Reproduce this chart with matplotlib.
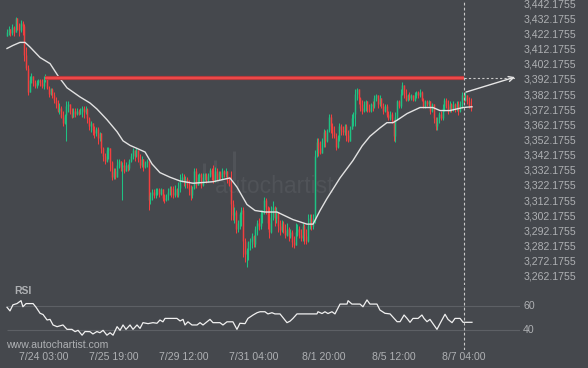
import matplotlib
matplotlib.use("Agg")
import matplotlib.pyplot as plt
import matplotlib.transforms as mtrans

# ---------------- data ----------------
first_open = 3421
closes = [3424,3426,3423,3427,3424,3433,3429,3425,3430,3428,3409,3400,3384,3392,3395,3390,3388,3391,3392,3390,
          3388,3393,3395,3387,3383,3386,3382,3379,3376,3372,3374,3368,3364,3369,3375,3376,3371,3368,3372,3370,
          3372,3370,3372,3374,3371,3373,3367,3362,3364,3359,3357,3360,3354,3357,3347,3342,3339,3346,3347,3338,
          3328,3332,3328,3336,3339,3335,3336,3332,3336,3334,3339,3342,3346,3342,3346,3340,3336,3340,3335,3338,
          3339,3313,3316,3318,3316,3320,3320,3317,3320,3314,3313,3316,3318,3321,3318,3316,3320,3316,3321,3326,
          3328,3325,3327,3323,3320,3316,3321,3332,3323,3328,3330,3323,3328,3330,3326,3329,3333,3330,3326,3332,
          3327,3331,3328,3332,3330,3332,3326,3323,3310,3303,3305,3294,3298,3304,3306,3286,3277,3280,3285,3286,
          3289,3284,3294,3298,3296,3304,3305,3313,3308,3298,3292,3302,3308,3301,3305,3296,3293,3298,3293,3290,
          3294,3289,3292,3285,3283,3292,3294,3290,3288,3296,3289,3286,3296,3301,3296,3300,3342,3351,3347,3344,
          3352,3358,3352,3359,3368,3362,3358,3355,3348,3354,3362,3359,3358,3362,3356,3352,3360,3367,3370,3383,
          3386,3380,3374,3372,3376,3378,3374,3372,3376,3375,3380,3382,3376,3380,3375,3372,3375,3369,3367,3370,
          3366,3355,3368,3378,3375,3383,3389,3382,3379,3382,3380,3382,3379,3382,3384,3382,3384,3379,3375,3378,
          3376,3378,3372,3376,3367,3362,3367,3370,3367,3374,3379,3375,3372,3376,3373,3376,3374,3376,3372,3376,
          3382,3379,3382,3378,3375,3374]
highs = [3426,3428,3426,3429,3428,3434,3433,3430,3432,3431,3429,3414,3402,3395,3397,3395,3392,3392,3393,3393,
         3393,3395,3396,3395,3388,3387,3387,3384,3381,3379,3377,3375,3372,3370,3378,3378,3376,3374,3374,3374,
         3374,3373,3374,3375,3375,3375,3374,3368,3365,3364,3362,3361,3361,3358,3357,3348,3344,3348,3348,3346,
         3339,3334,3334,3340,3340,3339,3338,3340,3338,3337,3340,3344,3347,3346,3347,3346,3343,3342,3340,3339,
         3340,3338,3318,3320,3320,3321,3321,3321,3321,3320,3317,3317,3321,3322,3322,3322,3323,3321,3325,3330,
         3331,3330,3329,3328,3326,3323,3322,3334,3334,3330,3331,3331,3331,3331,3331,3331,3334,3334,3336,3335,
         3334,3332,3332,3334,3333,3334,3332,3328,3332,3313,3308,3306,3300,3305,3308,3308,3288,3281,3286,3288,
         3291,3290,3296,3300,3301,3306,3306,3315,3314,3309,3308,3309,3312,3309,3308,3305,3300,3300,3299,3297,
         3298,3295,3294,3293,3289,3298,3297,3296,3294,3298,3297,3294,3304,3304,3304,3304,3346,3354,3354,3352,
         3354,3360,3359,3360,3370,3370,3364,3362,3357,3356,3364,3363,3362,3363,3363,3359,3362,3370,3371,3386,
         3387,3386,3381,3379,3378,3379,3378,3376,3377,3378,3382,3383,3382,3382,3380,3377,3376,3376,3372,3372,
         3371,3366,3371,3379,3379,3386,3391,3388,3386,3383,3384,3383,3382,3384,3385,3385,3386,3385,3380,3379,
         3379,3379,3378,3377,3376,3368,3368,3371,3372,3376,3380,3380,3379,3378,3377,3378,3377,3378,3378,3378,
         3384,3384,3384,3382,3381,3380]
lows = [3421,3422,3421,3422,3421,3424,3425,3421,3424,3422,3405,3399,3382,3386,3390,3388,3387,3387,3389,3388,
        3387,3386,3391,3386,3381,3382,3380,3377,3374,3371,3370,3367,3362,3363,3352,3371,3370,3367,3368,3368,
        3369,3369,3370,3368,3367,3370,3364,3359,3358,3356,3354,3355,3350,3352,3344,3339,3337,3338,3340,3332,
        3326,3327,3327,3328,3334,3332,3313,3331,3332,3332,3333,3338,3340,3339,3341,3338,3334,3335,3332,3334,
        3335,3306,3310,3313,3314,3314,3316,3315,3316,3312,3311,3312,3313,3316,3315,3314,3315,3315,3315,3318,
        3325,3322,3321,3321,3316,3313,3314,3320,3321,3323,3324,3321,3322,3326,3324,3325,3328,3326,3324,3325,
        3326,3326,3327,3327,3328,3328,3324,3322,3300,3300,3298,3291,3292,3294,3296,3275,3272,3269,3273,3280,
        3281,3282,3282,3290,3293,3294,3298,3304,3304,3294,3288,3291,3300,3296,3298,3292,3290,3292,3291,3288,
        3289,3286,3288,3282,3281,3284,3289,3288,3286,3286,3284,3284,3285,3294,3293,3294,3298,3341,3342,3343,
        3344,3348,3348,3351,3358,3357,3354,3354,3346,3347,3352,3356,3356,3356,3352,3351,3352,3360,3362,3362,
        3379,3376,3372,3370,3371,3372,3371,3371,3371,3372,3374,3378,3374,3375,3374,3370,3371,3368,3366,3366,
        3364,3352,3351,3366,3374,3374,3382,3380,3378,3378,3379,3379,3378,3378,3380,3380,3381,3378,3374,3374,
        3375,3375,3370,3371,3364,3359,3359,3364,3366,3366,3372,3374,3370,3371,3371,3372,3371,3372,3369,3371,
        3374,3377,3378,3376,3374,3372]

ma_idx = [0,3.4,7.4,10.3,13.1,18.9,24.6,29.1,34.3,41.7,47.4,51.4,57.1,62.9,66.3,70.3,74.3,78.9,82.9,87.4,
          93.1,98.9,106.3,117.7,127.4,131.4,137.1,141.7,147.4,154.3,163.4,171.4,174.9,178.9,182.9,190.3,197.7,
          202.9,207.4,213.1,217.1,220.6,223.4,228.6,236,243.4,247.4,253.1,260.6,265.7]
ma_val = [3413,3415,3417,3417,3414,3407,3403,3395,3387,3381,3377,3373,3366,3358,3352,3349,3347,3344.6,3336.7,3331,
          3328,3325.5,3324,3325,3327.5,3321.5,3310,3306,3305,3305,3300,3297,3297,3306,3314,3327.5,3339,
          3348.6,3355,3360.5,3364,3364,3366,3370,3374,3374,3372,3372,3374,3374.5]

rsi_idx = [0,1.7,3.4,5.7,8,9.1,10.9,14.9,16.6,18.9,20.6,22.9,24.6,26.3,28.6,32,34.3,37.1,38.9,40.6,
           42.9,44.6,47.4,49.1,51.4,53.1,54.9,57.1,58.9,60.6,62.9,64.6,66.3,68,70.3,72,74.3,76,77.7,80.6,
           83.4,85.7,87.4,89.1,90.3,97.1,98.9,100.6,101.7,103.4,105.7,108.6,110.3,112,116,117.7,121.7,123.4,125.7,129.1,
           131.4,133.1,136,137.7,140.6,142.9,144.6,147.4,149.1,151.4,153.1,156,160,161.7,163.4,165.7,169.1,177.1,177.7,180,
           181.7,183.4,185.7,187.4,190.3,194.3,194.9,197.1,201.7,203.4,205.7,207.4,211.4,213.1,216,218.9,222.9,224.6,226.9,228.6,
           230.3,232,234.9,237.1,238.3,240,241.7,245.7,248,250.3,252,254.3,256,258.9,260.6,265.7]
rsi_val = [59,56,61,62,64.4,59.4,62,62,59,54,53,48.5,49,44.4,43,44.4,40.8,40.8,38.9,40,
           36,39,38.9,37,39,38,40,36,38,36,43,40,44.4,40.8,44.4,40.8,44.4,41.6,46.3,45.5,
           46.3,45.8,48.5,47,49.8,49.8,47.7,49,44.4,47,44.4,44.4,46.3,44.4,49,46.3,46.3,44.4,47,47,
           40.8,45.8,45.5,49.8,52.6,54.5,55.3,55.3,53.5,54.5,53.5,53.5,46.3,47.5,49.8,53.5,53.5,53.5,55.3,53.8,
           55.3,53.8,55.3,53.5,61.6,61.6,64.4,61.6,61.6,59.4,65,61.6,61.6,56.7,54,53.5,47.1,47.1,52.6,49.8,
           46.6,49.8,49.8,52.6,49.8,47.1,49,40.8,47.1,53.2,49,46.3,49.8,49.8,46.6,46.6]

resistance = 3393.5
resist_start = 21.7
signal_idx = 261
arrow_start = (262.3, 3384.2)
arrow_end = (290.3, 3394.1)

price_ticks = [3262.1755 + 10 * k for k in range(19)]
x_tick_idx = [21, 61, 101, 141, 181, 221, 261]
x_tick_labels = ["7/24 03:00", "7/25 19:00", "7/29 12:00", "7/31 04:00", "8/1 20:00", "8/5 12:00", "8/7 04:00"]
rsi_levels = [60, 40]

# ---------------- style ----------------
BG = "#45484d"
TXT = "#aeb0b3"
GREEN = "#1ec283"
RED = "#f23f3f"
FONT = "Liberation Sans"
plt.rcParams["font.family"] = [FONT, "DejaVu Sans"]

W, H = 588, 368
fig = plt.figure(figsize=(W / 100, H / 100), dpi=100, facecolor=BG)

def fx(px):
    return px / W

def fy(py):
    return 1 - py / H

# price panel: pixel x 0..515, y 0..285
ax = fig.add_axes([0, fy(285), fx(515), 285 / H])
ax.set_facecolor(BG)
ax.set_xlim(-4, 290.29)
ax.set_ylim(3256.8, 3445.0)
ax.axis("off")

# RSI panel: pixel x 0..520, y 285..350
ar = fig.add_axes([0, fy(350), fx(520), 65 / H])
ar.set_facecolor("none")
ar.set_xlim(-4, 293.14)
ar.set_ylim(23.8, 77.3)
ar.axis("off")

# watermark (faint)
ax.text(119, 3322, "autochartist", fontsize=16.5, color="#505358", ha="left", va="center",
        zorder=1, family=[FONT, "DejaVu Sans"])
for bx, btop in [(112.5, 3337.5), (119.0, 3339.5), (129.5, 3345.0)]:
    ax.vlines(bx, 3325.5, btop, color="#505358", lw=2.2, zorder=1)

# candles
opens = [first_open] + closes[:-1]
for i, (o, c, h, l) in enumerate(zip(opens, closes, highs, lows)):
    col = GREEN if c >= o else RED
    ax.vlines(i, min(l, o, c), max(h, o, c), color=col, lw=0.75, zorder=3)
    ax.vlines(i, min(o, c), max(o, c) + 0.01, color=col, lw=1.05, zorder=3)

# moving average
ax.plot(ma_idx, ma_val, color="#e2e2e2", lw=1.0, zorder=4)

# resistance line
ax.hlines(resistance, resist_start, signal_idx, color="#b73a3d", lw=3.0, zorder=5)
ax.hlines(resistance, resist_start, signal_idx, color="#ec4848", lw=1.5, zorder=5)
ax.hlines(resistance, signal_idx, arrow_end[0], color="#c9c9c9", lw=0.8, linestyles=(0, (2, 2)), zorder=5)

# signal vertical dashed line
ax.axvline(signal_idx, color="#c9c9c9", lw=0.8, ls=(0, (2.5, 2)), zorder=6)
ar.axvline(signal_idx, color="#c9c9c9", lw=0.8, ls=(0, (2.5, 2)), zorder=6)

# forecast arrow
ax.annotate("", xy=arrow_end, xytext=arrow_start,
            arrowprops=dict(arrowstyle="->", color="#e6e6e6", lw=1.0, shrinkA=0, shrinkB=0,
                            mutation_scale=9),
            annotation_clip=False, zorder=7)

# price labels
tr_p = mtrans.blended_transform_factory(fig.transFigure, ax.transData)
for v in price_ticks:
    ax.text(fx(576), v, f"{v:,.4f}", transform=tr_p, ha="right", va="center",
            fontsize=7.6, color=TXT, clip_on=False)

# RSI
for lv in rsi_levels:
    ar.hlines(lv, 0, 293.14, color="#5d6065", lw=0.8, zorder=1)
    ar.text(fx(523), lv, str(lv), transform=mtrans.blended_transform_factory(fig.transFigure, ar.transData),
            ha="left", va="center", fontsize=7.6, color=TXT)
ar.plot(rsi_idx, rsi_val, color="#f0f0f0", lw=0.9, zorder=3)
fig.text(fx(14), fy(291.5), "RSI", fontsize=7.5, fontweight="bold", color=TXT, ha="left", va="center")

# x labels
tr_x = mtrans.blended_transform_factory(ar.transData, fig.transFigure)
for i, lab in zip(x_tick_idx, x_tick_labels):
    ar.text(i, fy(356.5), lab, transform=tr_x, ha="center", va="center", fontsize=7.6, color=TXT)

fig.text(fx(6), fy(344.5), "www.autochartist.com", fontsize=7.6, color=TXT, ha="left", va="center")

fig.savefig("out.png", dpi=100, facecolor=BG)
